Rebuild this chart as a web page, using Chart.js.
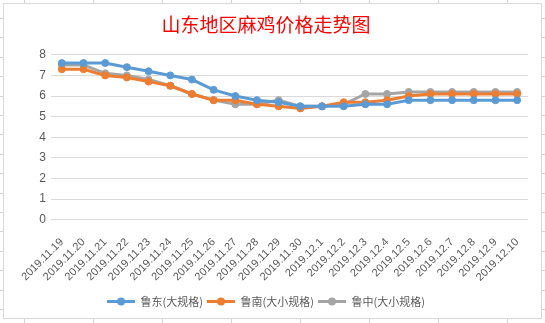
<!DOCTYPE html>
<html>
<head>
<meta charset="utf-8">
<script src="https://cdn.jsdelivr.net/npm/chart.js@4"></script>
<style>
  html, body { margin: 0; padding: 0; }
  body {
    width: 545px; height: 323px; overflow: hidden; position: relative;
    background-color: #fff;
    background-image:
      repeating-linear-gradient(90deg, transparent 0, transparent 24px, #d4d4d4 24px, #d4d4d4 25px, transparent 25px, transparent 69px),
      repeating-linear-gradient(180deg, transparent 0, transparent 18px, #d4d4d4 18px, #d4d4d4 19px, transparent 19px, transparent 19.4px);
  }
  #box {
    position: absolute; left: 3px; top: 3px; width: 537px; height: 314px;
    border: 1px solid #d9d9d9; background: #fff;
  }
  canvas { display: block; }
</style>
</head>
<body>
<div id="box"><canvas id="trendChart" width="537" height="314"></canvas></div>
<script>
var dates = [
	"2019.11.19", "2019.11.20", "2019.11.21", "2019.11.22", "2019.11.23", "2019.11.24",
	"2019.11.25", "2019.11.26", "2019.11.27", "2019.11.28", "2019.11.29", "2019.11.30",
	"2019.12.1", "2019.12.2", "2019.12.3", "2019.12.4", "2019.12.5", "2019.12.6",
	"2019.12.7", "2019.12.8", "2019.12.9", "2019.12.10",
];
var ludong = [7.6, 7.6, 7.6, 7.4, 7.2, 7.0, 6.8, 6.3, 6.0, 5.8, 5.7, 5.5, 5.5, 5.5, 5.6, 5.6, 5.8, 5.8, 5.8, 5.8, 5.8, 5.8];
var lunan = [7.3, 7.3, 7.0, 6.9, 6.7, 6.5, 6.1, 5.8, 5.8, 5.6, 5.5, 5.4, 5.5, 5.7, 5.7, 5.8, 6.0, 6.1, 6.1, 6.1, 6.1, 6.1];
var luzhong = [7.5, 7.5, 7.1, 7.0, 6.8, 6.5, 6.1, 5.8, 5.6, 5.6, 5.8, 5.5, 5.5, 5.6, 6.1, 6.1, 6.2, 6.2, 6.2, 6.2, 6.2, 6.2];
var names = ["鲁东(大规格)", "鲁南(大小规格)", "鲁中(大小规格)"];
var colors = ["#5b9bd5", "#ed7d31", "#a5a5a5"];

// little line-with-dot marker, like the spreadsheet legend
function legendMark(color) {
	var c = document.createElement("canvas");
	c.width = 28;
	c.height = 9;
	var g = c.getContext("2d");
	g.strokeStyle = color;
	g.lineWidth = 3;
	g.beginPath();
	g.moveTo(0, 4.5);
	g.lineTo(28, 4.5);
	g.stroke();
	g.fillStyle = color;
	g.beginPath();
	g.arc(14, 4.5, 4, 0, Math.PI * 2);
	g.fill();
	return c;
}

function series(i, values) {
	return {
		label: names[i],
		data: values,
		borderColor: colors[i],
		backgroundColor: colors[i],
		borderWidth: 3,
		pointRadius: 3.5,
		pointHoverRadius: 4,
		pointBorderWidth: 1,
		tension: 0,
		fill: false,
	};
}

var ctx = document.getElementById("trendChart").getContext("2d");
new Chart(ctx, {
	type: "line",
	data: {
		labels: dates,
		datasets: [series(0, ludong), series(1, lunan), series(2, luzhong)],
	},
	options: {
		responsive: false,
		animation: false,
		layout: { padding: { left: 0, right: 13, top: 0, bottom: 1 } },
		plugins: {
			title: {
				display: true,
				text: "山东地区麻鸡价格走势图",
				color: "#ff0000",
				font: { family: "'Noto Sans CJK SC'", size: 19, weight: "normal" },
				padding: { top: 9, bottom: 19 },
			},
			legend: {
				position: "bottom",
				labels: {
					usePointStyle: true,
					pointStyleWidth: 28,
					padding: 4,
					color: "#595959",
					font: { family: "'Noto Sans CJK SC'", size: 11 },
					generateLabels: function (chart) {
						var items = Chart.defaults.plugins.legend.labels.generateLabels(chart);
						items.forEach(function (it) {
							it.pointStyle = legendMark(colors[it.datasetIndex]);
						});
						return items;
					},
				},
			},
			tooltip: { enabled: false },
		},
		scales: {
			x: {
				offset: true,
				grid: { display: false },
				border: { display: false },
				ticks: {
					minRotation: 45,
					maxRotation: 45,
					autoSkip: false,
					color: "#595959",
					font: { family: "'Liberation Sans'", size: 11 },
					padding: 8,
				},
			},
			y: {
				min: 0,
				max: 8,
				afterFit: function (scale) { scale.width = 47; },
				grid: { color: "#d9d9d9", drawTicks: false },
				border: { display: false },
				ticks: {
					stepSize: 1,
					color: "#595959",
					padding: 5,
					font: { family: "'Liberation Sans'", size: 12 },
				},
			},
		},
	},
});
</script>
</body>
</html>
